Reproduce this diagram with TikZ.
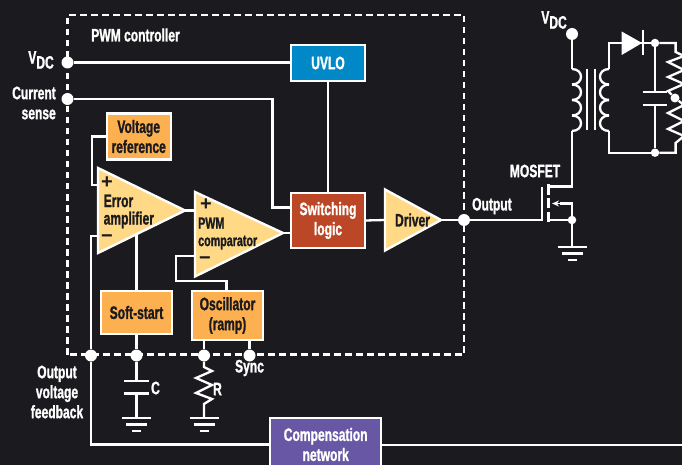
\documentclass[tikz,border=0pt]{standalone}
\usepackage{fontspec}
\setmainfont{Liberation Sans}[FakeStretch=0.67,BoldFeatures={FakeStretch=0.67,FakeBold=1.2}]
\newfontfamily\symfont{Liberation Sans}
\usetikzlibrary{arrows.meta}
\definecolor{panelbg}{HTML}{1B1B1F}
\definecolor{blockorange}{HTML}{FDB04F}
\definecolor{ampyellow}{HTML}{FFD985}
\definecolor{uvloblue}{HTML}{0088C7}
\definecolor{logicred}{HTML}{BC4726}
\definecolor{comppurple}{HTML}{6857A5}
\newcommand{\vdclabel}{V\raisebox{-5pt}{DC}}
\begin{document}
\begin{tikzpicture}[
    x=1pt, y=-1pt,
    wire/.style={white, line width=2.3pt},
    frame/.style={white, dash pattern=on 6.5pt off 4.5pt, line width=2.6pt},
    block/.style={draw=white, line width=2.4pt, outer sep=0pt, inner sep=0pt, align=center,
        font=\fontsize{18}{20}\selectfont\bfseries},
    orangeblock/.style={block, fill=blockorange, text=panelbg},
    amp/.style={draw=white, fill=ampyellow, line width=2.4pt, line join=miter},
    dot/.style={circle, fill=white, inner sep=0pt, minimum size=12pt},
    smalldot/.style={circle, fill=white, inner sep=0pt, minimum size=8.5pt},
    whitelabel/.style={text=white, inner sep=0pt, align=center,
        font=\fontsize{18}{20}\selectfont\bfseries},
    darklabel/.style={text=panelbg, inner sep=0pt, align=left,
        font=\fontsize{18}{17.5}\selectfont\bfseries},
    sign/.style={text=panelbg, inner sep=0pt, anchor=base, font=\fontsize{20}{20}\selectfont\symfont\bfseries}
]
\clip (0,0) rectangle (682,465);
\fill[panelbg] (0,0) rectangle (682,465);

% Controller outline
\draw[frame] (67.5,354.5) -- (67.5,15) -- (464,15) -- (464,354.5) -- cycle;
\node[whitelabel] (title) at (135.5,35) {PWM controller};

% Blocks
\node[block, fill=uvloblue, text=white, minimum width=74pt, minimum height=36pt] (uvlo) at (328,63) {UVLO};
\node[block, fill=logicred, text=white, minimum width=74pt, minimum height=55pt] (logic) at (328,220.5) {Switching\\logic};
\node[orangeblock, minimum width=64pt, minimum height=46pt] (vref) at (138.7,136.5) {Voltage\\reference};
\node[orangeblock, minimum width=71pt, minimum height=43pt] (soft) at (136.5,312.5) {Soft-start};
\node[orangeblock, minimum width=71pt, minimum height=49pt] (osc) at (227.5,315.5) {Oscillator\\(ramp)};
\node[block, fill=comppurple, text=white, minimum width=111pt, minimum height=53pt] (comp) at (325.7,444.5) {Compensation\\network};

% Pins
\node[dot] (vdcpin) at (67.5,62.5) {};
\node[dot] (cspin) at (67.5,99) {};
\node[dot] (outpin) at (464,220) {};
\node[dot] (fbpin) at (91,355.5) {};
\node[dot] (cpin) at (136.5,355.5) {};
\node[dot] (rpin) at (204,355.5) {};
\node[dot] (syncpin) at (249.5,355.5) {};
\node[dot] (vdctop) at (572,34) {};
\node[smalldot] (srcdot) at (572,220) {};
\node[smalldot] (captop) at (655,43) {};
\node[smalldot] (capbot) at (655,152.7) {};
\node[smalldot, minimum size=9pt] (midtap) at (675,98) {};

% Amplifier corners and wire ends
\coordinate (ea1) at (98,168);
\coordinate (ea2) at (98,253);
\coordinate (ea3) at (185,210.5);
\coordinate (eaplus) at (98,185);
\coordinate (eaminus) at (98,236);
\coordinate (eafoot) at (136.5,234);
\coordinate (pc1) at (195,192);
\coordinate (pc2) at (195,276.5);
\coordinate (pc3) at (283,233);
\coordinate (pcin) at (195,210.5);
\coordinate (pcminus) at (195,256);
\coordinate (dr1) at (385,189.5);
\coordinate (dr2) at (385,250.5);
\coordinate (dr3) at (441,220);
\coordinate (lgcs) at (291,207.5);
\coordinate (lgpc) at (291,233);
\coordinate (fbend) at (682,445);
\coordinate (oscout) at (226.5,291);

% Wires
\draw[wire] (vdcpin) -- (vdcpin -| uvlo.west);
\draw[wire] (uvlo) -- (logic);
\draw[wire] (cspin) -- ++(205,0) |- (lgcs);
\draw[wire] (vref.west) -- ++(-15,0) |- (eaplus);
\draw[wire] (eaminus) -| (fbpin);
\draw[wire] (fbpin) |- (comp.west);
\draw[wire] (comp.east |- fbend) -- (fbend);
\draw[wire] (eafoot) -- (soft.north);
\draw[wire] (soft) -- (cpin);
\draw[wire] (ea3) -- (pcin);
\draw[wire] (pc3) -- (lgpc);
\draw[wire] (oscout) -- ++(0,-10) -- ++(-50.5,0) |- (pcminus);
\draw[wire] (rpin |- osc.south) -- (rpin);
\draw[wire] (syncpin |- osc.south) -- (syncpin);
\draw[wire] (logic.east) -- (dr1 |- dr3);
\draw[wire] (dr3) -- (outpin);

% Amplifiers
\draw[amp] (ea1) -- (ea3) -- (ea2) -- cycle;
\draw[amp] (pc1) -- (pc3) -- (pc2) -- cycle;
\draw[amp] (dr1) -- (dr3) -- (dr2) -- cycle;

% Capacitor and resistor outside the controller
\draw[wire] (cpin) -- (136.5,381);
\draw[wire] (124,381) -- (149,381);
\draw[wire] (124,393.5) -- (149,393.5);
\draw[wire] (136.5,393.5) -- (136.5,418);
\draw[wire, line join=miter] (rpin) -- (204,367) -- (212,371) -- (196,378) -- (212,385) -- (196,393) -- (212,399) -- (204,404) -- (204,418);

% Grounds
\foreach \gx/\gy in {136.5/418, 204/418, 572/247} {
    \draw[wire] (\gx-14.5,\gy) -- (\gx+14.5,\gy);
    \draw[wire] (\gx-10.5,\gy+6.5) -- (\gx+10.5,\gy+6.5);
    \draw[wire] (\gx-4.5,\gy+13) -- (\gx+4.5,\gy+13);
}

% MOSFET
\draw[wire] (outpin) -- (541.7,220) -- (541.7,187);
\draw[wire] (548.5,184) -- (548.5,195);
\draw[wire] (548.5,198) -- (548.5,208);
\draw[wire] (548.5,212) -- (548.5,222);
\draw[wire] (548.5,186.5) -- (572,186.5) -- (572,131);
\draw[wire] (548.5,220) -- (srcdot);
\draw[wire] (srcdot) -- (572,247);
\draw[wire] (srcdot) -- (572,203.5) -- (560,203.5);
\draw[white, line width=1.5pt, -{Stealth[length=7pt,width=6pt]}] (560,203.5) -- (552,203.5);

% Transformer
\draw[wire] (vdctop) -- (572,69);
\foreach \n in {0,1,2,3} {
    \draw[wire] (572,69+15.5*\n) .. controls (584,69+15.5*\n) and (584,84.5+15.5*\n) .. (572,84.5+15.5*\n);
    \draw[wire] (609,69+15.5*\n) .. controls (597,69+15.5*\n) and (597,84.5+15.5*\n) .. (609,84.5+15.5*\n);
}
\draw[wire] (586.7,69) -- (586.7,130);
\draw[wire] (595,69) -- (595,130);

% Rectifier and output filter
\draw[wire, line join=miter] (609,131) -- (609,152.7) -- (capbot);
\draw[wire, line join=miter] (609,69) -- (609,43) -- (captop);
\fill[white] (621.7,31.5) -- (642,43) -- (621.7,55) -- cycle;
\draw[white, line width=1.4pt] (643,30) -- (643,55.5);
\draw[wire] (captop) -- (655,92);
\draw[wire] (642.7,92) -- (667,92);
\draw[wire] (642.7,105) -- (667,105);
\draw[wire] (655,105) -- (capbot);
\draw[wire, line join=miter] (captop) -- (675.6,43) -- (675.6,52) -- (684,56) -- (668,62) -- (684,70) -- (668,77) -- (684,84) -- (668,91) -- (midtap);
\draw[wire, line join=miter] (midtap) -- (684,105) -- (668,113) -- (684,121) -- (668,129) -- (684,136) -- (675.6,143) -- (675.6,152.7) -- (capbot);

% Labels
\node[whitelabel, anchor=east] (vdcleft) at (54,60) {\vdclabel};
\node[whitelabel, align=right, anchor=east] (cslabel) at (56,103) {Current\\sense};
\node[whitelabel] (fblabel) at (57,392) {Output\\voltage\\feedback};
\node[whitelabel] (clabel) at (155.5,388) {C};
\node[whitelabel] (rlabel) at (217.5,389) {R};
\node[whitelabel] (synclabel) at (249.5,368) {Sync};
\node[whitelabel, anchor=west] (outlabel) at (472,206) {Output};
\node[whitelabel] (moslabel) at (535,171) {MOSFET};
\node[whitelabel, anchor=east] (vdcright) at (567,20) {\vdclabel};
\node[darklabel] (dvlabel) at (412.5,220) {Driver};
\node[darklabel, anchor=west] (ealabel) at (103.5,211.5) {Error\\amplifier};
\node[darklabel, anchor=west, font=\fontsize{16}{17.5}\selectfont\bfseries] (pclabel) at (198,233.5) {PWM\\comparator};
\node[sign] (eap) at (107,189) {\smash{+}};
\node[sign] (eam) at (107,242) {\smash{−}};
\node[sign] (pcp) at (206,211) {\smash{+}};
\node[sign] (pcm) at (205,264) {\smash{−}};

\end{tikzpicture}
\end{document}
